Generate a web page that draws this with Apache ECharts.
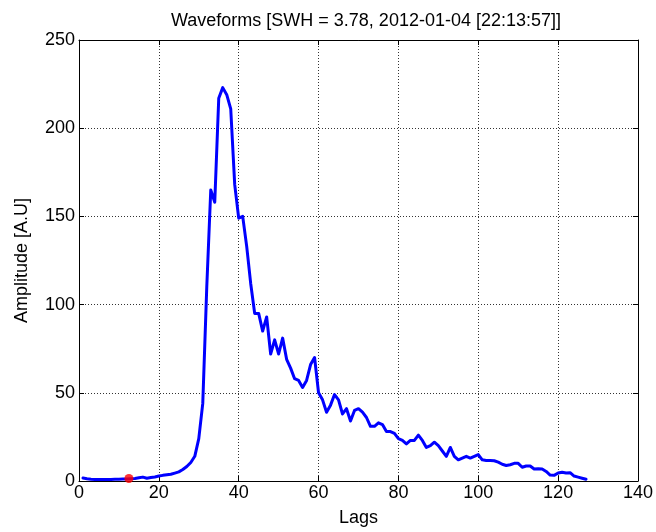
<!DOCTYPE html>
<html><head><meta charset="utf-8">
<script src="https://cdn.jsdelivr.net/npm/echarts@6/dist/echarts.min.js"></script>
<style>html,body{margin:0;padding:0;background:#fff}#c{width:656px;height:532px}</style>
</head><body><div id="c"></div>
<script>
var lags = [];
for (var i = 1; i <= 127; i++) lags.push(i);
var amplitude = [
 1.7,1.3,1.0,0.8,0.8,0.8,0.9,0.9,1.0,1.0,
 1.1,1.2,1.3,1.4,1.8,2.2,1.6,2.0,2.3,2.8,
 3.2,3.5,3.8,4.5,5.2,6.5,8.2,10.5,14,24,
 44,110,165,158,217,223,219,211,168,149,
 150,133,112,95,95,85,93,72,80,72,
 81,69,64,58,57,53,57,66,70,50,
 46,39,43,49,46,38,41,34,40,41,
 39,36,31,31,33,32,28,28,27,24,
 23,21,23,23,26,23,19,20,22,20,
 17,14,19,14,12,13,14,13,14,15,
 12,11.6,11.6,11.5,10.7,9.5,8.8,9.2,10,10,
 7.8,8.5,8.5,6.8,7,6.8,5.4,3.4,3.2,4.5,
 5,4.5,4.7,2.8,2.2,1.6,1.0
];
var markerLag = [12.5];
var markerAmp = [1.4];
var xTicks = [0,20,40,60,80,100,120,140];
var yTicks = [0,50,100,150,200,250];
var titleText = 'Waveforms [SWH = 3.78, 2012-01-04 [22:13:57]]';

var lineData = lags.map(function(l, k){ return [l, amplitude[k]]; });
var dotData = markerLag.map(function(l, k){ return [l, markerAmp[k]]; });
var font = 'Liberation Sans, Arial, Helvetica, sans-serif';
var fs = 18;
var chart = echarts.init(document.getElementById('c'));
var baseAxis = {
  axisLine: {show: true, onZero: false, lineStyle: {color: '#000', width: 1}},
  axisTick: {show: true, inside: true, length: 5, lineStyle: {color: '#000'}},
  splitLine: {show: true, lineStyle: {color: '#333', type: [1, 2], width: 1}}
};
chart.setOption({
  animation: false,
  backgroundColor: '#fff',
  title: {text: titleText, left: 361, top: 7, textAlign: 'center',
    textStyle: {fontSize: fs, fontWeight: 'normal', color: '#000', fontFamily: font}},
  grid: {left: 79, right: 13, top: 40, bottom: 48, containLabel: false},
  xAxis: [
    Object.assign({}, baseAxis, {type: 'value', min: 0, max: 140, interval: 20,
      name: 'Lags', nameLocation: 'middle', nameGap: 28,
      nameTextStyle: {fontSize: fs, color: '#000', fontFamily: font},
      axisLabel: {color: '#000', fontSize: fs, fontFamily: font, margin: 3}}),
    {type: 'value', position: 'top', min: 0, max: 140, interval: 20,
      axisLine: {show: true, onZero: false, lineStyle: {color: '#000'}},
      axisTick: {show: true, inside: true, length: 5, lineStyle: {color: '#000'}},
      axisLabel: {show: false}, splitLine: {show: false}}
  ],
  yAxis: [
    Object.assign({}, baseAxis, {type: 'value', min: 0, max: 250, interval: 50,
      name: 'Amplitude [A.U]', nameLocation: 'middle', nameGap: 48,
      nameTextStyle: {fontSize: fs, color: '#000', fontFamily: font},
      axisLabel: {color: '#000', fontSize: fs, fontFamily: font, margin: 4}}),
    {type: 'value', position: 'right', min: 0, max: 250, interval: 50,
      axisLine: {show: true, onZero: false, lineStyle: {color: '#000'}},
      axisTick: {show: true, inside: true, length: 5, lineStyle: {color: '#000'}},
      axisLabel: {show: false}, splitLine: {show: false}}
  ],
  series: [
    {type: 'line', data: lineData, showSymbol: false, symbol: 'none',
      lineStyle: {color: '#0000ff', width: 3, cap: 'round', join: 'round'}, z: 3},
    {type: 'scatter', data: dotData, symbol: 'circle', symbolSize: 9,
      itemStyle: {color: '#ff0000'}, z: 4}
  ]
});
</script></body></html>
